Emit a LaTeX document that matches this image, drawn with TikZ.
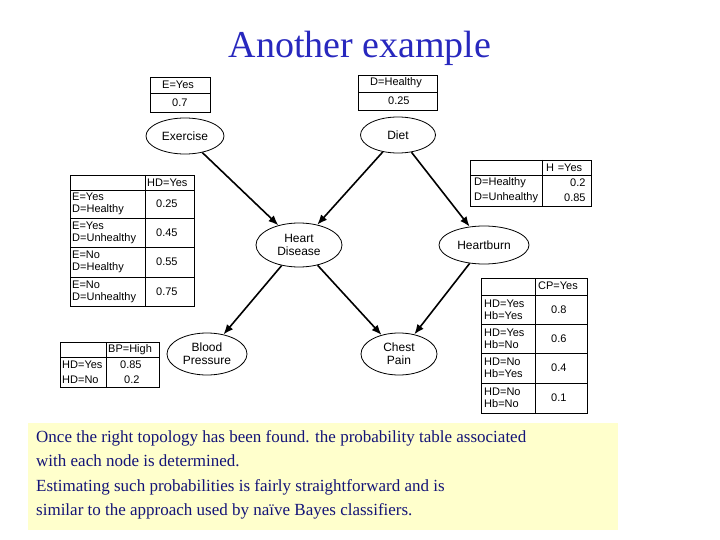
\documentclass[tikz,border=0pt]{standalone}
\usepackage{fontspec}
\setmainfont{Liberation Serif}
\newfontfamily\tabfont{Liberation Sans}
\usetikzlibrary{arrows.meta,shapes.geometric}
\definecolor{ttl}{RGB}{40,40,190}
\definecolor{txt}{RGB}{20,20,120}
\definecolor{note}{RGB}{255,255,204}
\begin{document}
\begin{tikzpicture}[x=1pt,y=-1pt,
  ev/.style={draw,thick,ellipse,fill=white,minimum width=#1,font=\tabfont\fontsize{12}{13}\selectfont,align=center,inner sep=1pt},
  arr/.style={line width=1.6pt,-{Latex[length=10pt,width=8pt]}},
  tb/.style={font=\tabfont\fontsize{11}{12}\selectfont,align=left,anchor=west,inner sep=2pt},
  tl/.style={draw,line width=0.6pt}]
\useasboundingbox (0,0) rectangle (720,540);
\node[font=\fontsize{38}{40}\selectfont,text=ttl] (title) at (360,48) {Another example};
% nodes
\node[ev=78pt,minimum height=36pt] (ex) at (185,136) {Exercise};
\node[ev=75pt,minimum height=36pt] (di) at (398,135) {Diet};
\node[ev=86pt,minimum height=44pt] (hd) at (299,245) {Heart\\Disease};
\node[ev=90pt,minimum height=38pt] (hb) at (484,245) {Heartburn};
\node[ev=80pt,minimum height=42pt] (bp) at (207,354) {Blood\\Pressure};
\node[ev=76pt,minimum height=42pt] (cp) at (399,354) {Chest\\Pain};
\draw[arr] (ex) -- (hd);
\draw[arr] (di) -- (hd);
\draw[arr] (di) -- (hb);
\draw[arr] (hd) -- (bp);
\draw[arr] (hd) -- (cp);
\draw[arr] (hb) -- (cp);
% E table
\draw[tl] (150,77) rectangle (210,112); \draw[tl] (150,93)--(210,93);
\node[tb] (e1) at (160,85) {E=Yes}; \node[tb] (e2) at (170,103) {0.7};
% D table
\draw[tl] (358,75) rectangle (437,110); \draw[tl] (358,92)--(437,92);
\node[tb] (d1) at (368,83) {D=Healthy}; \node[tb] (d2) at (386,101) {0.25};
% HD table
\draw[tl] (70,175) rectangle (194,306); \draw[tl] (145,175)--(145,306);
\foreach \y in {190,218,247,277} \draw[tl] (70,\y)--(194,\y);
\node[tb] at (145,183) {HD=Yes};
\node[tb] at (70,204) {E=Yes\\D=Healthy}; \node[tb] at (154,204) {0.25};
\node[tb] at (70,233) {E=Yes\\D=Unhealthy}; \node[tb] at (154,233) {0.45};
\node[tb] at (70,262) {E=No\\D=Healthy}; \node[tb] at (154,262) {0.55};
\node[tb] at (70,292) {E=No\\D=Unhealthy}; \node[tb] at (154,292) {0.75};
% HB table
\draw[tl] (470,160) rectangle (591,206); \draw[tl] (542,160)--(542,206); \draw[tl] (470,175)--(591,175);
\node[tb] at (544,168) {H\,\,=Yes};
\node[tb] at (472,183) {D=Healthy}; \node[tb] at (568,183) {0.2};
\node[tb] at (472,198) {D=Unhealthy}; \node[tb] at (562,198) {0.85};
% BP table
\draw[tl] (60,342) rectangle (159,387); \draw[tl] (106,342)--(106,387); \draw[tl] (60,357)--(159,357);
\node[tb] at (106,350) {BP=High};
\node[tb] at (60,365) {HD=Yes}; \node[tb] at (118,365) {0.85};
\node[tb] at (60,380) {HD=No}; \node[tb] at (122,380) {0.2};
% CP table
\draw[tl] (481,278) rectangle (587,413); \draw[tl] (535,278)--(535,413);
\foreach \y in {295,324,353,383} \draw[tl] (481,\y)--(587,\y);
\node[tb] at (536,286) {CP=Yes};
\node[tb] at (482,310) {HD=Yes\\Hb=Yes}; \node[tb] at (549,310) {0.8};
\node[tb] at (482,339) {HD=Yes\\Hb=No}; \node[tb] at (549,339) {0.6};
\node[tb] at (482,368) {HD=No\\Hb=Yes}; \node[tb] at (549,368) {0.4};
\node[tb] at (482,398) {HD=No\\Hb=No}; \node[tb] at (549,398) {0.1};
% note
\fill[note] (28,423) rectangle (618,530);
\node[anchor=north west,align=left,text=txt,font=\fontsize{17}{24.5}\selectfont,inner sep=0] (note) at (36,430)
{Once the right topology has been found. the probability table associated\\with each node is determined.\\Estimating such probabilities is fairly straightforward and is\\similar to the approach used by naïve Bayes classifiers.};
\end{tikzpicture}
\end{document}
